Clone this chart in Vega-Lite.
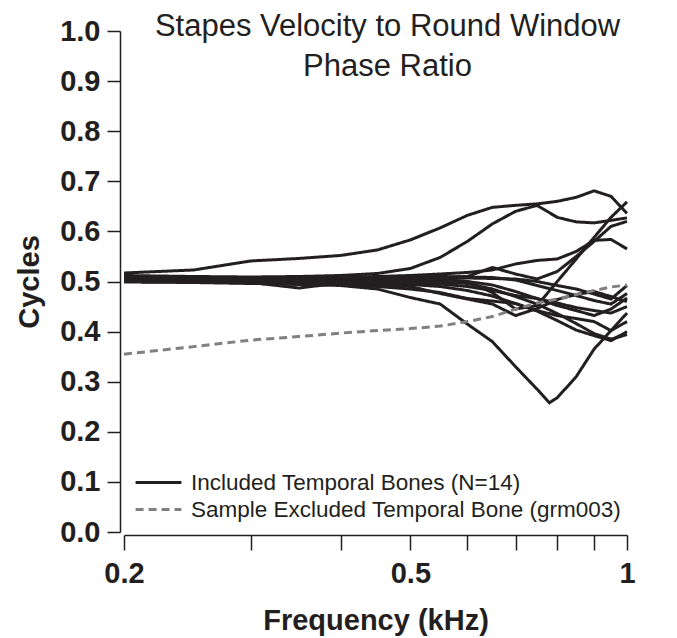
{
  "$schema": "https://vega.github.io/schema/vega-lite/v6.json",
  "width": 503,
  "height": 501,
  "autosize": {"type": "none"},
  "padding": {"left": 124, "top": 31, "right": 50, "bottom": 106},
  "background": "white",
  "config": {"view": {"stroke": null}, "font": "Liberation Sans"},
  "title": {
    "text": ["Stapes Velocity to Round Window", "Phase Ratio"],
    "fontSize": 31,
    "font": "Liberation Sans",
    "fontWeight": "normal",
    "color": "#231f20",
    "anchor": "middle",
    "lineHeight": 40,
    "offset": 0,
    "dy": 66,
    "dx": 12
  },
  "data": {"values": [
{"bone":"T01","group":"inc","freq":0.2,"cycles":0.517},{"bone":"T01","group":"inc","freq":0.25,"cycles":0.523},{"bone":"T01","group":"inc","freq":0.3,"cycles":0.541},{"bone":"T01","group":"inc","freq":0.35,"cycles":0.546},{"bone":"T01","group":"inc","freq":0.4,"cycles":0.552},{"bone":"T01","group":"inc","freq":0.45,"cycles":0.563},{"bone":"T01","group":"inc","freq":0.5,"cycles":0.583},{"bone":"T01","group":"inc","freq":0.55,"cycles":0.607},{"bone":"T01","group":"inc","freq":0.6,"cycles":0.632},{"bone":"T01","group":"inc","freq":0.65,"cycles":0.648},{"bone":"T01","group":"inc","freq":0.7,"cycles":0.652},{"bone":"T01","group":"inc","freq":0.75,"cycles":0.655},{"bone":"T01","group":"inc","freq":0.8,"cycles":0.66},{"bone":"T01","group":"inc","freq":0.85,"cycles":0.668},{"bone":"T01","group":"inc","freq":0.9,"cycles":0.681},{"bone":"T01","group":"inc","freq":0.95,"cycles":0.67},{"bone":"T01","group":"inc","freq":1.0,"cycles":0.636},
{"bone":"T02","group":"inc","freq":0.2,"cycles":0.512},{"bone":"T02","group":"inc","freq":0.25,"cycles":0.51},{"bone":"T02","group":"inc","freq":0.3,"cycles":0.509},{"bone":"T02","group":"inc","freq":0.35,"cycles":0.51},{"bone":"T02","group":"inc","freq":0.4,"cycles":0.512},{"bone":"T02","group":"inc","freq":0.45,"cycles":0.516},{"bone":"T02","group":"inc","freq":0.5,"cycles":0.526},{"bone":"T02","group":"inc","freq":0.55,"cycles":0.548},{"bone":"T02","group":"inc","freq":0.6,"cycles":0.58},{"bone":"T02","group":"inc","freq":0.65,"cycles":0.615},{"bone":"T02","group":"inc","freq":0.7,"cycles":0.64},{"bone":"T02","group":"inc","freq":0.75,"cycles":0.652},{"bone":"T02","group":"inc","freq":0.8,"cycles":0.628},{"bone":"T02","group":"inc","freq":0.85,"cycles":0.619},{"bone":"T02","group":"inc","freq":0.9,"cycles":0.617},{"bone":"T02","group":"inc","freq":0.95,"cycles":0.622},{"bone":"T02","group":"inc","freq":1.0,"cycles":0.627},
{"bone":"T03","group":"inc","freq":0.2,"cycles":0.508},{"bone":"T03","group":"inc","freq":0.25,"cycles":0.506},{"bone":"T03","group":"inc","freq":0.3,"cycles":0.504},{"bone":"T03","group":"inc","freq":0.35,"cycles":0.503},{"bone":"T03","group":"inc","freq":0.4,"cycles":0.503},{"bone":"T03","group":"inc","freq":0.45,"cycles":0.505},{"bone":"T03","group":"inc","freq":0.5,"cycles":0.506},{"bone":"T03","group":"inc","freq":0.55,"cycles":0.505},{"bone":"T03","group":"inc","freq":0.6,"cycles":0.5},{"bone":"T03","group":"inc","freq":0.65,"cycles":0.478},{"bone":"T03","group":"inc","freq":0.7,"cycles":0.445},{"bone":"T03","group":"inc","freq":0.75,"cycles":0.452},{"bone":"T03","group":"inc","freq":0.8,"cycles":0.5},{"bone":"T03","group":"inc","freq":0.85,"cycles":0.545},{"bone":"T03","group":"inc","freq":0.9,"cycles":0.588},{"bone":"T03","group":"inc","freq":0.95,"cycles":0.628},{"bone":"T03","group":"inc","freq":1.0,"cycles":0.659},
{"bone":"T04","group":"inc","freq":0.2,"cycles":0.51},{"bone":"T04","group":"inc","freq":0.25,"cycles":0.508},{"bone":"T04","group":"inc","freq":0.3,"cycles":0.507},{"bone":"T04","group":"inc","freq":0.35,"cycles":0.507},{"bone":"T04","group":"inc","freq":0.4,"cycles":0.508},{"bone":"T04","group":"inc","freq":0.45,"cycles":0.51},{"bone":"T04","group":"inc","freq":0.5,"cycles":0.512},{"bone":"T04","group":"inc","freq":0.55,"cycles":0.515},{"bone":"T04","group":"inc","freq":0.6,"cycles":0.518},{"bone":"T04","group":"inc","freq":0.65,"cycles":0.523},{"bone":"T04","group":"inc","freq":0.7,"cycles":0.535},{"bone":"T04","group":"inc","freq":0.75,"cycles":0.542},{"bone":"T04","group":"inc","freq":0.8,"cycles":0.545},{"bone":"T04","group":"inc","freq":0.85,"cycles":0.56},{"bone":"T04","group":"inc","freq":0.9,"cycles":0.582},{"bone":"T04","group":"inc","freq":0.95,"cycles":0.584},{"bone":"T04","group":"inc","freq":1.0,"cycles":0.565},
{"bone":"T05","group":"inc","freq":0.2,"cycles":0.505},{"bone":"T05","group":"inc","freq":0.25,"cycles":0.504},{"bone":"T05","group":"inc","freq":0.3,"cycles":0.503},{"bone":"T05","group":"inc","freq":0.35,"cycles":0.503},{"bone":"T05","group":"inc","freq":0.4,"cycles":0.504},{"bone":"T05","group":"inc","freq":0.45,"cycles":0.505},{"bone":"T05","group":"inc","freq":0.5,"cycles":0.507},{"bone":"T05","group":"inc","freq":0.55,"cycles":0.508},{"bone":"T05","group":"inc","freq":0.6,"cycles":0.51},{"bone":"T05","group":"inc","freq":0.65,"cycles":0.528},{"bone":"T05","group":"inc","freq":0.7,"cycles":0.515},{"bone":"T05","group":"inc","freq":0.75,"cycles":0.505},{"bone":"T05","group":"inc","freq":0.8,"cycles":0.52},{"bone":"T05","group":"inc","freq":0.85,"cycles":0.55},{"bone":"T05","group":"inc","freq":0.9,"cycles":0.58},{"bone":"T05","group":"inc","freq":0.95,"cycles":0.61},{"bone":"T05","group":"inc","freq":1.0,"cycles":0.62},
{"bone":"T06","group":"inc","freq":0.2,"cycles":0.5},{"bone":"T06","group":"inc","freq":0.25,"cycles":0.499},{"bone":"T06","group":"inc","freq":0.3,"cycles":0.497},{"bone":"T06","group":"inc","freq":0.35,"cycles":0.494},{"bone":"T06","group":"inc","freq":0.4,"cycles":0.492},{"bone":"T06","group":"inc","freq":0.45,"cycles":0.485},{"bone":"T06","group":"inc","freq":0.5,"cycles":0.468},{"bone":"T06","group":"inc","freq":0.55,"cycles":0.455},{"bone":"T06","group":"inc","freq":0.6,"cycles":0.415},{"bone":"T06","group":"inc","freq":0.65,"cycles":0.38},{"bone":"T06","group":"inc","freq":0.7,"cycles":0.33},{"bone":"T06","group":"inc","freq":0.75,"cycles":0.285},{"bone":"T06","group":"inc","freq":0.78,"cycles":0.258},{"bone":"T06","group":"inc","freq":0.8,"cycles":0.268},{"bone":"T06","group":"inc","freq":0.85,"cycles":0.31},{"bone":"T06","group":"inc","freq":0.9,"cycles":0.365},{"bone":"T06","group":"inc","freq":0.95,"cycles":0.402},{"bone":"T06","group":"inc","freq":1.0,"cycles":0.42},
{"bone":"T07","group":"inc","freq":0.2,"cycles":0.507},{"bone":"T07","group":"inc","freq":0.25,"cycles":0.506},{"bone":"T07","group":"inc","freq":0.3,"cycles":0.505},{"bone":"T07","group":"inc","freq":0.35,"cycles":0.505},{"bone":"T07","group":"inc","freq":0.4,"cycles":0.506},{"bone":"T07","group":"inc","freq":0.45,"cycles":0.507},{"bone":"T07","group":"inc","freq":0.5,"cycles":0.508},{"bone":"T07","group":"inc","freq":0.55,"cycles":0.508},{"bone":"T07","group":"inc","freq":0.6,"cycles":0.507},{"bone":"T07","group":"inc","freq":0.65,"cycles":0.506},{"bone":"T07","group":"inc","freq":0.7,"cycles":0.505},{"bone":"T07","group":"inc","freq":0.75,"cycles":0.5},{"bone":"T07","group":"inc","freq":0.8,"cycles":0.492},{"bone":"T07","group":"inc","freq":0.85,"cycles":0.485},{"bone":"T07","group":"inc","freq":0.9,"cycles":0.475},{"bone":"T07","group":"inc","freq":0.95,"cycles":0.465},{"bone":"T07","group":"inc","freq":1.0,"cycles":0.492},
{"bone":"T08","group":"inc","freq":0.2,"cycles":0.509},{"bone":"T08","group":"inc","freq":0.25,"cycles":0.508},{"bone":"T08","group":"inc","freq":0.3,"cycles":0.507},{"bone":"T08","group":"inc","freq":0.35,"cycles":0.507},{"bone":"T08","group":"inc","freq":0.4,"cycles":0.508},{"bone":"T08","group":"inc","freq":0.45,"cycles":0.509},{"bone":"T08","group":"inc","freq":0.5,"cycles":0.51},{"bone":"T08","group":"inc","freq":0.55,"cycles":0.51},{"bone":"T08","group":"inc","freq":0.6,"cycles":0.509},{"bone":"T08","group":"inc","freq":0.65,"cycles":0.508},{"bone":"T08","group":"inc","freq":0.7,"cycles":0.503},{"bone":"T08","group":"inc","freq":0.75,"cycles":0.492},{"bone":"T08","group":"inc","freq":0.8,"cycles":0.482},{"bone":"T08","group":"inc","freq":0.85,"cycles":0.472},{"bone":"T08","group":"inc","freq":0.9,"cycles":0.462},{"bone":"T08","group":"inc","freq":0.95,"cycles":0.455},{"bone":"T08","group":"inc","freq":1.0,"cycles":0.476},
{"bone":"T09","group":"inc","freq":0.2,"cycles":0.503},{"bone":"T09","group":"inc","freq":0.25,"cycles":0.502},{"bone":"T09","group":"inc","freq":0.3,"cycles":0.501},{"bone":"T09","group":"inc","freq":0.35,"cycles":0.501},{"bone":"T09","group":"inc","freq":0.4,"cycles":0.502},{"bone":"T09","group":"inc","freq":0.45,"cycles":0.503},{"bone":"T09","group":"inc","freq":0.5,"cycles":0.504},{"bone":"T09","group":"inc","freq":0.55,"cycles":0.503},{"bone":"T09","group":"inc","freq":0.6,"cycles":0.5},{"bone":"T09","group":"inc","freq":0.65,"cycles":0.493},{"bone":"T09","group":"inc","freq":0.7,"cycles":0.48},{"bone":"T09","group":"inc","freq":0.75,"cycles":0.466},{"bone":"T09","group":"inc","freq":0.8,"cycles":0.452},{"bone":"T09","group":"inc","freq":0.85,"cycles":0.442},{"bone":"T09","group":"inc","freq":0.9,"cycles":0.432},{"bone":"T09","group":"inc","freq":0.95,"cycles":0.445},{"bone":"T09","group":"inc","freq":1.0,"cycles":0.467},
{"bone":"T10","group":"inc","freq":0.2,"cycles":0.501},{"bone":"T10","group":"inc","freq":0.25,"cycles":0.5},{"bone":"T10","group":"inc","freq":0.3,"cycles":0.499},{"bone":"T10","group":"inc","freq":0.35,"cycles":0.498},{"bone":"T10","group":"inc","freq":0.4,"cycles":0.499},{"bone":"T10","group":"inc","freq":0.45,"cycles":0.499},{"bone":"T10","group":"inc","freq":0.5,"cycles":0.497},{"bone":"T10","group":"inc","freq":0.55,"cycles":0.495},{"bone":"T10","group":"inc","freq":0.6,"cycles":0.49},{"bone":"T10","group":"inc","freq":0.65,"cycles":0.482},{"bone":"T10","group":"inc","freq":0.7,"cycles":0.472},{"bone":"T10","group":"inc","freq":0.75,"cycles":0.466},{"bone":"T10","group":"inc","freq":0.8,"cycles":0.457},{"bone":"T10","group":"inc","freq":0.85,"cycles":0.448},{"bone":"T10","group":"inc","freq":0.9,"cycles":0.442},{"bone":"T10","group":"inc","freq":0.95,"cycles":0.437},{"bone":"T10","group":"inc","freq":1.0,"cycles":0.45},
{"bone":"T11","group":"inc","freq":0.2,"cycles":0.499},{"bone":"T11","group":"inc","freq":0.25,"cycles":0.498},{"bone":"T11","group":"inc","freq":0.3,"cycles":0.496},{"bone":"T11","group":"inc","freq":0.35,"cycles":0.495},{"bone":"T11","group":"inc","freq":0.4,"cycles":0.494},{"bone":"T11","group":"inc","freq":0.45,"cycles":0.49},{"bone":"T11","group":"inc","freq":0.5,"cycles":0.485},{"bone":"T11","group":"inc","freq":0.55,"cycles":0.478},{"bone":"T11","group":"inc","freq":0.6,"cycles":0.466},{"bone":"T11","group":"inc","freq":0.65,"cycles":0.461},{"bone":"T11","group":"inc","freq":0.7,"cycles":0.456},{"bone":"T11","group":"inc","freq":0.75,"cycles":0.442},{"bone":"T11","group":"inc","freq":0.8,"cycles":0.432},{"bone":"T11","group":"inc","freq":0.85,"cycles":0.426},{"bone":"T11","group":"inc","freq":0.9,"cycles":0.42},{"bone":"T11","group":"inc","freq":0.95,"cycles":0.402},{"bone":"T11","group":"inc","freq":1.0,"cycles":0.437},
{"bone":"T12","group":"inc","freq":0.2,"cycles":0.504},{"bone":"T12","group":"inc","freq":0.25,"cycles":0.503},{"bone":"T12","group":"inc","freq":0.3,"cycles":0.502},{"bone":"T12","group":"inc","freq":0.35,"cycles":0.5},{"bone":"T12","group":"inc","freq":0.4,"cycles":0.499},{"bone":"T12","group":"inc","freq":0.45,"cycles":0.497},{"bone":"T12","group":"inc","freq":0.5,"cycles":0.494},{"bone":"T12","group":"inc","freq":0.55,"cycles":0.49},{"bone":"T12","group":"inc","freq":0.6,"cycles":0.482},{"bone":"T12","group":"inc","freq":0.65,"cycles":0.471},{"bone":"T12","group":"inc","freq":0.7,"cycles":0.456},{"bone":"T12","group":"inc","freq":0.75,"cycles":0.441},{"bone":"T12","group":"inc","freq":0.8,"cycles":0.422},{"bone":"T12","group":"inc","freq":0.85,"cycles":0.403},{"bone":"T12","group":"inc","freq":0.9,"cycles":0.392},{"bone":"T12","group":"inc","freq":0.95,"cycles":0.382},{"bone":"T12","group":"inc","freq":1.0,"cycles":0.4},
{"bone":"T13","group":"inc","freq":0.2,"cycles":0.506},{"bone":"T13","group":"inc","freq":0.25,"cycles":0.505},{"bone":"T13","group":"inc","freq":0.3,"cycles":0.503},{"bone":"T13","group":"inc","freq":0.35,"cycles":0.502},{"bone":"T13","group":"inc","freq":0.4,"cycles":0.501},{"bone":"T13","group":"inc","freq":0.45,"cycles":0.5},{"bone":"T13","group":"inc","freq":0.5,"cycles":0.5},{"bone":"T13","group":"inc","freq":0.55,"cycles":0.499},{"bone":"T13","group":"inc","freq":0.6,"cycles":0.496},{"bone":"T13","group":"inc","freq":0.65,"cycles":0.485},{"bone":"T13","group":"inc","freq":0.7,"cycles":0.47},{"bone":"T13","group":"inc","freq":0.75,"cycles":0.455},{"bone":"T13","group":"inc","freq":0.8,"cycles":0.436},{"bone":"T13","group":"inc","freq":0.85,"cycles":0.416},{"bone":"T13","group":"inc","freq":0.9,"cycles":0.396},{"bone":"T13","group":"inc","freq":0.95,"cycles":0.385},{"bone":"T13","group":"inc","freq":1.0,"cycles":0.394},
{"bone":"T14","group":"inc","freq":0.2,"cycles":0.5},{"bone":"T14","group":"inc","freq":0.25,"cycles":0.499},{"bone":"T14","group":"inc","freq":0.3,"cycles":0.498},{"bone":"T14","group":"inc","freq":0.35,"cycles":0.487},{"bone":"T14","group":"inc","freq":0.4,"cycles":0.497},{"bone":"T14","group":"inc","freq":0.45,"cycles":0.494},{"bone":"T14","group":"inc","freq":0.5,"cycles":0.49},{"bone":"T14","group":"inc","freq":0.55,"cycles":0.476},{"bone":"T14","group":"inc","freq":0.6,"cycles":0.465},{"bone":"T14","group":"inc","freq":0.65,"cycles":0.455},{"bone":"T14","group":"inc","freq":0.7,"cycles":0.432},{"bone":"T14","group":"inc","freq":0.75,"cycles":0.446},{"bone":"T14","group":"inc","freq":0.8,"cycles":0.464},{"bone":"T14","group":"inc","freq":0.85,"cycles":0.474},{"bone":"T14","group":"inc","freq":0.9,"cycles":0.48},{"bone":"T14","group":"inc","freq":0.95,"cycles":0.47},{"bone":"T14","group":"inc","freq":1.0,"cycles":0.46},
{"bone":"grm003","group":"exc","freq":0.2,"cycles":0.355},{"bone":"grm003","group":"exc","freq":0.25,"cycles":0.37},{"bone":"grm003","group":"exc","freq":0.3,"cycles":0.383},{"bone":"grm003","group":"exc","freq":0.35,"cycles":0.39},{"bone":"grm003","group":"exc","freq":0.4,"cycles":0.397},{"bone":"grm003","group":"exc","freq":0.45,"cycles":0.402},{"bone":"grm003","group":"exc","freq":0.5,"cycles":0.406},{"bone":"grm003","group":"exc","freq":0.55,"cycles":0.411},{"bone":"grm003","group":"exc","freq":0.6,"cycles":0.42},{"bone":"grm003","group":"exc","freq":0.65,"cycles":0.43},{"bone":"grm003","group":"exc","freq":0.7,"cycles":0.445},{"bone":"grm003","group":"exc","freq":0.75,"cycles":0.457},{"bone":"grm003","group":"exc","freq":0.8,"cycles":0.465},{"bone":"grm003","group":"exc","freq":0.85,"cycles":0.474},{"bone":"grm003","group":"exc","freq":0.9,"cycles":0.482},{"bone":"grm003","group":"exc","freq":0.95,"cycles":0.489},{"bone":"grm003","group":"exc","freq":1.0,"cycles":0.493}
  ]},
  "mark": {"type": "line", "strokeWidth": 3, "strokeJoin": "miter", "clip": false},
  "encoding": {
    "x": {
      "field": "freq", "type": "quantitative",
      "scale": {"type": "log", "domain": [0.2, 1], "nice": false},
      "axis": {
        "values": [0.2, 0.3, 0.4, 0.5, 0.6, 0.7, 0.8, 0.9, 1],
        "labelExpr": "datum.value == 0.2 ? '0.2' : (datum.value == 0.5 ? '0.5' : (datum.value == 1 ? '1' : ''))",
        "grid": false, "offset": 3,
        "domainColor": "#231f20", "domainWidth": 1.5,
        "tickColor": "#231f20", "tickWidth": 1.5, "tickSize": 15,
        "labelFont": "Liberation Sans", "labelFontSize": 29, "labelFontWeight": "bold", "labelColor": "#231f20",
        "labelPadding": 9, "labelFlush": false, "labelOverlap": false,
        "title": "Frequency (kHz)",
        "titleFont": "Liberation Sans", "titleFontSize": 29, "titleFontWeight": "bold", "titleColor": "#231f20",
        "titlePadding": 18
      }
    },
    "y": {
      "field": "cycles", "type": "quantitative",
      "scale": {"domain": [0, 1], "nice": false},
      "axis": {
        "values": [0, 0.1, 0.2, 0.3, 0.4, 0.5, 0.6, 0.7, 0.8, 0.9, 1],
        "format": ".1f",
        "grid": false, "offset": 4,
        "domainColor": "#231f20", "domainWidth": 1.5,
        "tickColor": "#231f20", "tickWidth": 1.5, "tickSize": 13,
        "labelFont": "Liberation Sans", "labelFontSize": 29, "labelFontWeight": "bold", "labelColor": "#231f20",
        "labelPadding": 7, "labelFlush": false, "labelOverlap": false,
        "title": "Cycles",
        "titleFont": "Liberation Sans", "titleFontSize": 29, "titleFontWeight": "bold", "titleColor": "#231f20",
        "titlePadding": 15
      }
    },
    "detail": {"field": "bone", "type": "nominal"},
    "color": {
      "field": "group", "type": "nominal",
      "scale": {"domain": ["inc", "exc"], "range": ["#231f20", "#808080"]},
      "legend": {
        "values": ["inc"],
        "orient": "none", "legendX": 10, "legendY": 427, "title": null, "padding": 0,
        "symbolType": "stroke", "symbolSize": 2100, "symbolStrokeWidth": 3,
        "labelExpr": "'Included Temporal Bones (N=14)'",
        "labelFont": "Liberation Sans", "labelFontSize": 22.5, "labelColor": "#231f20",
        "labelOffset": 8, "labelLimit": 600
      }
    },
    "strokeDash": {
      "field": "bone", "type": "nominal",
      "scale": {
        "domain": ["T01","T02","T03","T04","T05","T06","T07","T08","T09","T10","T11","T12","T13","T14","grm003"],
        "range": [[1,0],[1,0],[1,0],[1,0],[1,0],[1,0],[1,0],[1,0],[1,0],[1,0],[1,0],[1,0],[1,0],[1,0],[8,5]]
      },
      "legend": {
        "values": ["grm003"],
        "orient": "none", "legendX": 10, "legendY": 454, "title": null, "padding": 0,
        "symbolType": "stroke", "symbolSize": 2100, "symbolStrokeWidth": 3, "symbolStrokeColor": "#808080",
        "labelExpr": "'Sample Excluded Temporal Bone (grm003)'",
        "labelFont": "Liberation Sans", "labelFontSize": 22.5, "labelColor": "#231f20",
        "labelOffset": 8, "labelLimit": 600
      }
    }
  }
}
